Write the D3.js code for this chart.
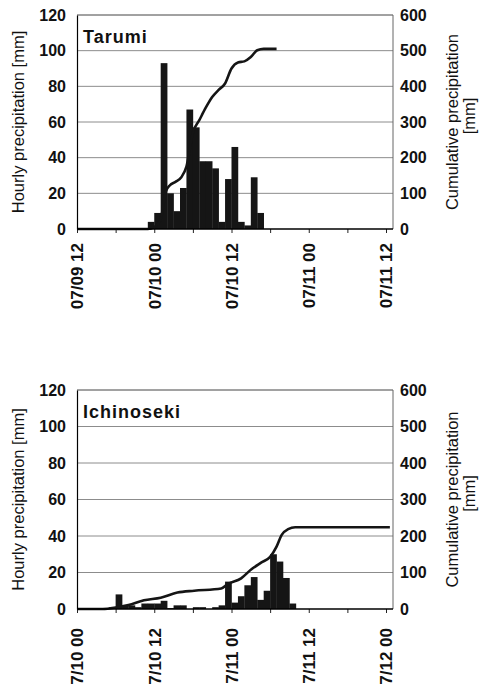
<!DOCTYPE html>
<html>
<head>
<meta charset="utf-8">
<script src="https://cdn.jsdelivr.net/npm/d3@7"></script>
<style>
  body { margin: 0; background: #fff; }
  text { font-family: "Liberation Sans", Arial, sans-serif; }
</style>
</head>
<body>
<svg id="chart"></svg>
<script>
const width = 480;
const height = 691;

// axis ticks
const hourlyTicks = [0, 20, 40, 60, 80, 100, 120];
const cumTicks = [0, 100, 200, 300, 400, 500, 600];
const tickHours = [0, 6, 12, 18, 24, 30, 36, 42, 48];   // hours from axis start
const tarumiTickLabels = ["07/09 12", "07/10 00", "07/10 12", "07/11 00", "07/11 12"];
const ichinosekiTickLabels = ["7/10 00", "7/10 12", "7/11 00", "7/11 12", "7/12 00"];

// Tarumi (hours after 07/09 12)
const tarumiHours = [11, 12, 13, 14, 15, 16, 17, 18, 19, 20, 21, 22, 23, 24, 25, 26, 27, 28];
const tarumiHourly = [4, 9, 93, 20, 10, 23, 67, 57, 38, 38, 34, 4, 28, 46, 4, 2, 29, 9];
const tarumiCumHours = [0, 11, 12, 13, 13.8, 14.4, 15.3, 16.2, 17, 18, 19, 20, 21, 22, 23, 24, 25, 26, 27, 28, 29, 31];
const tarumiCum = [0, 0, 5, 28, 105, 122, 132, 145, 175, 270, 305, 340, 370, 390, 408, 450, 467, 470, 482, 501, 505, 505];

// Ichinoseki (hours after 7/10 00)
const ichinosekiHours = [5, 6, 7, 8, 9, 10, 11, 12, 13, 14, 15, 16, 18, 19, 21, 22, 23, 24, 25, 26, 27, 28, 29, 30, 31, 32, 33];
const ichinosekiHourly = [1, 8, 2, 2, 1, 3, 3, 3, 4.5, 0.5, 2, 2, 1, 1, 1, 2, 15, 3.5, 7, 13, 17.5, 5, 10, 30, 26, 17, 3];
const ichinosekiCumHours = [0, 4, 6, 8, 10.4, 13, 15.6, 18.2, 22.4, 23.4, 25.5, 27.1, 28.6, 30, 31, 31.8, 32.8, 33.9, 48.6];
const ichinosekiCum = [0, 0, 4, 11, 24, 31, 45, 50, 56, 68, 84, 109, 127, 143, 171, 203, 219, 224, 224];

const svg = d3.select("#chart")
    .attr("width", width)
    .attr("height", height);

const plotLeft = 77;
const plotRight = 393;

function drawPanel(cfg) {
    const g = svg.append("g");

    const x = d3.scaleLinear().domain([0, 48]).range([77, 386]);
    const y = d3.scaleLinear().domain([0, 120]).range([cfg.bottom, cfg.top]);
    const yCum = d3.scaleLinear().domain([0, 600]).range([cfg.bottom, cfg.top]);

    // gridlines + top border
    g.selectAll(".grid")
        .data(hourlyTicks.filter(d => d > 0))
        .join("line")
        .attr("class", "grid")
        .attr("x1", plotLeft).attr("x2", plotRight)
        .attr("y1", d => y(d)).attr("y2", d => y(d))
        .attr("stroke", d => d === 120 ? "#444" : "#8c8c8c")
        .attr("stroke-width", 1);

    // right border
    g.append("line")
        .attr("x1", plotRight).attr("x2", plotRight)
        .attr("y1", y(120)).attr("y2", y(0))
        .attr("stroke", "#666");

    // hourly bars
    const bars = cfg.hours.map((h, i) => ({h: h, v: cfg.hourly[i]}));
    g.selectAll(".bar")
        .data(bars)
        .join("rect")
        .attr("class", "bar")
        .attr("x", d => x(d.h))
        .attr("width", x(1) - x(0) + 0.3)
        .attr("y", d => y(d.v))
        .attr("height", d => y(0) - y(d.v))
        .attr("fill", "#151515");

    // cumulative line
    const cum = cfg.cumHours.map((h, i) => [h, cfg.cum[i]]);
    const line = d3.line()
        .x(d => x(d[0]))
        .y(d => yCum(d[1]))
        .curve(d3.curveMonotoneX);
    g.append("path")
        .datum(cum)
        .attr("d", line)
        .attr("fill", "none")
        .attr("stroke", "#151515")
        .attr("stroke-width", 2.6)
        .attr("stroke-linejoin", "round");

    // left axis
    g.append("g")
        .attr("transform", `translate(${plotLeft},0)`)
        .call(d3.axisLeft(y).tickValues(hourlyTicks).tickSize(0).tickPadding(11))
        .call(a => a.select(".domain").attr("stroke", "#000").attr("stroke-width", 1.2))
        .selectAll("text")
        .attr("font-size", 16)
        .attr("font-weight", "bold")
        .attr("fill", "#111");

    // right axis
    g.append("g")
        .attr("transform", `translate(${plotRight},0)`)
        .call(d3.axisRight(yCum).tickValues(cumTicks).tickSize(0).tickPadding(7))
        .call(a => a.select(".domain").remove())
        .selectAll("text")
        .attr("font-size", 16)
        .attr("font-weight", "bold")
        .attr("fill", "#111");

    // bottom axis
    const xAxis = g.append("g")
        .attr("transform", `translate(0,${cfg.bottom})`)
        .call(d3.axisBottom(x)
            .tickValues(tickHours)
            .tickSize(4)
            .tickSizeOuter(0)
            .tickFormat(d => d % 12 === 0 ? cfg.tickLabels[d / 12] : ""));
    xAxis.select(".domain").remove();
    xAxis.selectAll("line").attr("stroke", "#222");
    xAxis.selectAll("text")
        .attr("transform", "rotate(-90)")
        .attr("text-anchor", "end")
        .attr("x", -cfg.labelGap)
        .attr("y", 0)
        .attr("dy", "0.35em")
        .attr("font-size", 17)
        .attr("font-weight", "bold")
        .attr("fill", "#111");

    g.append("line")
        .attr("x1", plotLeft).attr("x2", plotRight)
        .attr("y1", y(0)).attr("y2", y(0))
        .attr("stroke", "#000")
        .attr("stroke-width", 1.4);

    // station name
    g.append("text")
        .attr("x", 83)
        .attr("y", cfg.titleY)
        .attr("font-size", 18)
        .attr("font-weight", "bold")
        .attr("letter-spacing", 1)
        .attr("fill", "#111")
        .text(cfg.name);

    // axis titles
    const midY = (cfg.top + cfg.bottom) / 2;
    g.append("text")
        .attr("transform", `translate(18,${midY}) rotate(-90)`)
        .attr("text-anchor", "middle")
        .attr("dy", "0.35em")
        .attr("font-size", 16.5)
        .attr("fill", "#111")
        .text("Hourly precipitation [mm]");

    g.append("text")
        .attr("transform", `translate(452,${midY}) rotate(-90)`)
        .attr("text-anchor", "middle")
        .attr("dy", "0.35em")
        .attr("font-size", 16.5)
        .attr("fill", "#111")
        .text("Cumulative precipitation");

    g.append("text")
        .attr("transform", `translate(469,${midY - 6}) rotate(-90)`)
        .attr("text-anchor", "middle")
        .attr("dy", "0.35em")
        .attr("font-size", 16.5)
        .attr("fill", "#111")
        .text("[mm]");
}

drawPanel({
    name: "Tarumi",
    top: 15, bottom: 229, titleY: 43, labelGap: 14,
    hours: tarumiHours, hourly: tarumiHourly,
    cumHours: tarumiCumHours, cum: tarumiCum,
    tickLabels: tarumiTickLabels
});

drawPanel({
    name: "Ichinoseki",
    top: 390, bottom: 609, titleY: 418, labelGap: 19,
    hours: ichinosekiHours, hourly: ichinosekiHourly,
    cumHours: ichinosekiCumHours, cum: ichinosekiCum,
    tickLabels: ichinosekiTickLabels
});
</script>
</body>
</html>
